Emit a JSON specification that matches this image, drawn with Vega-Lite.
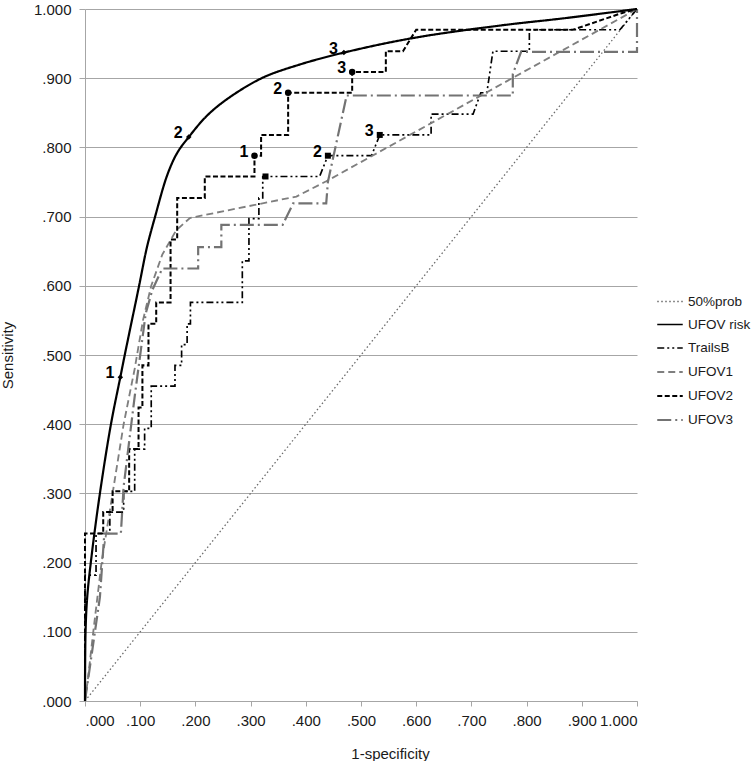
{
  "$schema": "https://vega.github.io/schema/vega-lite/v6.json",
  "width": 552,
  "height": 692,
  "padding": {"left": 0, "top": 2, "right": 0, "bottom": 0},
  "background": "white",
  "config": {
    "view": {"stroke": null},
    "font": "Liberation Sans",
    "axis": {
      "labelFont": "Liberation Sans",
      "titleFont": "Liberation Sans",
      "labelFontSize": 15, "titleFontSize": 15, "titleFontWeight": "normal",
      "labelColor": "#1a1a1a", "titleColor": "#1a1a1a",
      "domainColor": "#a6a6a6", "tickColor": "#a6a6a6", "gridColor": "#a6a6a6",
      "domainWidth": 1, "tickWidth": 1, "gridWidth": 1
    },
    "legend": {
      "labelFont": "Liberation Sans",
      "labelFontSize": 13.5, "labelColor": "#1a1a1a"
    }
  },
  "datasets": {
    "curves": [
      {"s": "50%prob", "i": 0, "x": 0, "y": 0},
      {"s": "50%prob", "i": 1, "x": 1, "y": 1},

      {"s": "UFOV risk", "i": 0, "x": 0.000, "y": 0.000},
      {"s": "UFOV risk", "i": 1, "x": 0.001, "y": 0.100},
      {"s": "UFOV risk", "i": 2, "x": 0.004, "y": 0.150},
      {"s": "UFOV risk", "i": 3, "x": 0.012, "y": 0.210},
      {"s": "UFOV risk", "i": 4, "x": 0.027, "y": 0.300},
      {"s": "UFOV risk", "i": 5, "x": 0.047, "y": 0.400},
      {"s": "UFOV risk", "i": 6, "x": 0.064, "y": 0.468},
      {"s": "UFOV risk", "i": 7, "x": 0.072, "y": 0.500},
      {"s": "UFOV risk", "i": 8, "x": 0.098, "y": 0.600},
      {"s": "UFOV risk", "i": 9, "x": 0.112, "y": 0.655},
      {"s": "UFOV risk", "i": 10, "x": 0.127, "y": 0.700},
      {"s": "UFOV risk", "i": 11, "x": 0.149, "y": 0.760},
      {"s": "UFOV risk", "i": 12, "x": 0.167, "y": 0.792},
      {"s": "UFOV risk", "i": 13, "x": 0.188, "y": 0.815},
      {"s": "UFOV risk", "i": 14, "x": 0.220, "y": 0.845},
      {"s": "UFOV risk", "i": 15, "x": 0.256, "y": 0.869},
      {"s": "UFOV risk", "i": 16, "x": 0.320, "y": 0.900},
      {"s": "UFOV risk", "i": 17, "x": 0.386, "y": 0.919},
      {"s": "UFOV risk", "i": 18, "x": 0.469, "y": 0.937},
      {"s": "UFOV risk", "i": 19, "x": 0.594, "y": 0.958},
      {"s": "UFOV risk", "i": 20, "x": 0.751, "y": 0.976},
      {"s": "UFOV risk", "i": 21, "x": 0.872, "y": 0.987},
      {"s": "UFOV risk", "i": 22, "x": 1.000, "y": 1.000},

      {"s": "TrailsB", "i": 0, "x": 0.000, "y": 0.000},
      {"s": "TrailsB", "i": 1, "x": 0.000, "y": 0.182},
      {"s": "TrailsB", "i": 2, "x": 0.020, "y": 0.182},
      {"s": "TrailsB", "i": 3, "x": 0.020, "y": 0.242},
      {"s": "TrailsB", "i": 4, "x": 0.045, "y": 0.242},
      {"s": "TrailsB", "i": 5, "x": 0.045, "y": 0.273},
      {"s": "TrailsB", "i": 6, "x": 0.070, "y": 0.273},
      {"s": "TrailsB", "i": 7, "x": 0.070, "y": 0.303},
      {"s": "TrailsB", "i": 8, "x": 0.090, "y": 0.303},
      {"s": "TrailsB", "i": 9, "x": 0.090, "y": 0.364},
      {"s": "TrailsB", "i": 10, "x": 0.108, "y": 0.364},
      {"s": "TrailsB", "i": 11, "x": 0.108, "y": 0.394},
      {"s": "TrailsB", "i": 12, "x": 0.120, "y": 0.394},
      {"s": "TrailsB", "i": 13, "x": 0.120, "y": 0.455},
      {"s": "TrailsB", "i": 14, "x": 0.163, "y": 0.455},
      {"s": "TrailsB", "i": 15, "x": 0.163, "y": 0.485},
      {"s": "TrailsB", "i": 16, "x": 0.175, "y": 0.485},
      {"s": "TrailsB", "i": 17, "x": 0.175, "y": 0.515},
      {"s": "TrailsB", "i": 18, "x": 0.185, "y": 0.515},
      {"s": "TrailsB", "i": 19, "x": 0.185, "y": 0.545},
      {"s": "TrailsB", "i": 20, "x": 0.191, "y": 0.545},
      {"s": "TrailsB", "i": 21, "x": 0.191, "y": 0.576},
      {"s": "TrailsB", "i": 22, "x": 0.285, "y": 0.576},
      {"s": "TrailsB", "i": 23, "x": 0.285, "y": 0.636},
      {"s": "TrailsB", "i": 24, "x": 0.297, "y": 0.636},
      {"s": "TrailsB", "i": 25, "x": 0.297, "y": 0.697},
      {"s": "TrailsB", "i": 26, "x": 0.315, "y": 0.697},
      {"s": "TrailsB", "i": 27, "x": 0.315, "y": 0.727},
      {"s": "TrailsB", "i": 28, "x": 0.322, "y": 0.727},
      {"s": "TrailsB", "i": 29, "x": 0.322, "y": 0.758},
      {"s": "TrailsB", "i": 30, "x": 0.425, "y": 0.758},
      {"s": "TrailsB", "i": 31, "x": 0.440, "y": 0.788},
      {"s": "TrailsB", "i": 32, "x": 0.519, "y": 0.788},
      {"s": "TrailsB", "i": 33, "x": 0.534, "y": 0.818},
      {"s": "TrailsB", "i": 34, "x": 0.627, "y": 0.818},
      {"s": "TrailsB", "i": 35, "x": 0.627, "y": 0.848},
      {"s": "TrailsB", "i": 36, "x": 0.703, "y": 0.848},
      {"s": "TrailsB", "i": 37, "x": 0.717, "y": 0.879},
      {"s": "TrailsB", "i": 38, "x": 0.728, "y": 0.879},
      {"s": "TrailsB", "i": 39, "x": 0.739, "y": 0.939},
      {"s": "TrailsB", "i": 40, "x": 0.805, "y": 0.939},
      {"s": "TrailsB", "i": 41, "x": 0.805, "y": 0.970},
      {"s": "TrailsB", "i": 42, "x": 0.969, "y": 0.970},
      {"s": "TrailsB", "i": 43, "x": 1.000, "y": 1.000},

      {"s": "UFOV1", "i": 0, "x": 0.000, "y": 0.000},
      {"s": "UFOV1", "i": 1, "x": 0.005, "y": 0.030},
      {"s": "UFOV1", "i": 2, "x": 0.015, "y": 0.100},
      {"s": "UFOV1", "i": 3, "x": 0.030, "y": 0.200},
      {"s": "UFOV1", "i": 4, "x": 0.050, "y": 0.300},
      {"s": "UFOV1", "i": 5, "x": 0.070, "y": 0.400},
      {"s": "UFOV1", "i": 6, "x": 0.090, "y": 0.480},
      {"s": "UFOV1", "i": 7, "x": 0.105, "y": 0.550},
      {"s": "UFOV1", "i": 8, "x": 0.120, "y": 0.600},
      {"s": "UFOV1", "i": 9, "x": 0.140, "y": 0.645},
      {"s": "UFOV1", "i": 10, "x": 0.165, "y": 0.680},
      {"s": "UFOV1", "i": 11, "x": 0.190, "y": 0.698},
      {"s": "UFOV1", "i": 12, "x": 0.383, "y": 0.729},
      {"s": "UFOV1", "i": 13, "x": 0.437, "y": 0.751},
      {"s": "UFOV1", "i": 14, "x": 1.000, "y": 1.000},

      {"s": "UFOV2", "i": 0, "x": 0.000, "y": 0.000},
      {"s": "UFOV2", "i": 1, "x": 0.000, "y": 0.242},
      {"s": "UFOV2", "i": 2, "x": 0.033, "y": 0.242},
      {"s": "UFOV2", "i": 3, "x": 0.033, "y": 0.273},
      {"s": "UFOV2", "i": 4, "x": 0.050, "y": 0.273},
      {"s": "UFOV2", "i": 5, "x": 0.050, "y": 0.303},
      {"s": "UFOV2", "i": 6, "x": 0.080, "y": 0.303},
      {"s": "UFOV2", "i": 7, "x": 0.080, "y": 0.364},
      {"s": "UFOV2", "i": 8, "x": 0.097, "y": 0.364},
      {"s": "UFOV2", "i": 9, "x": 0.097, "y": 0.424},
      {"s": "UFOV2", "i": 10, "x": 0.104, "y": 0.424},
      {"s": "UFOV2", "i": 11, "x": 0.104, "y": 0.485},
      {"s": "UFOV2", "i": 12, "x": 0.115, "y": 0.485},
      {"s": "UFOV2", "i": 13, "x": 0.115, "y": 0.545},
      {"s": "UFOV2", "i": 14, "x": 0.129, "y": 0.545},
      {"s": "UFOV2", "i": 15, "x": 0.129, "y": 0.576},
      {"s": "UFOV2", "i": 16, "x": 0.155, "y": 0.576},
      {"s": "UFOV2", "i": 17, "x": 0.155, "y": 0.667},
      {"s": "UFOV2", "i": 18, "x": 0.167, "y": 0.667},
      {"s": "UFOV2", "i": 19, "x": 0.167, "y": 0.727},
      {"s": "UFOV2", "i": 20, "x": 0.217, "y": 0.727},
      {"s": "UFOV2", "i": 21, "x": 0.217, "y": 0.758},
      {"s": "UFOV2", "i": 22, "x": 0.307, "y": 0.758},
      {"s": "UFOV2", "i": 23, "x": 0.307, "y": 0.788},
      {"s": "UFOV2", "i": 24, "x": 0.319, "y": 0.788},
      {"s": "UFOV2", "i": 25, "x": 0.319, "y": 0.818},
      {"s": "UFOV2", "i": 26, "x": 0.368, "y": 0.818},
      {"s": "UFOV2", "i": 27, "x": 0.368, "y": 0.879},
      {"s": "UFOV2", "i": 28, "x": 0.484, "y": 0.879},
      {"s": "UFOV2", "i": 29, "x": 0.484, "y": 0.909},
      {"s": "UFOV2", "i": 30, "x": 0.545, "y": 0.909},
      {"s": "UFOV2", "i": 31, "x": 0.545, "y": 0.939},
      {"s": "UFOV2", "i": 32, "x": 0.576, "y": 0.939},
      {"s": "UFOV2", "i": 33, "x": 0.600, "y": 0.970},
      {"s": "UFOV2", "i": 34, "x": 0.884, "y": 0.970},
      {"s": "UFOV2", "i": 35, "x": 0.972, "y": 0.994},
      {"s": "UFOV2", "i": 36, "x": 1.000, "y": 1.000},

      {"s": "UFOV3", "i": 0, "x": 0.000, "y": 0.000},
      {"s": "UFOV3", "i": 1, "x": 0.027, "y": 0.150},
      {"s": "UFOV3", "i": 2, "x": 0.035, "y": 0.242},
      {"s": "UFOV3", "i": 3, "x": 0.065, "y": 0.242},
      {"s": "UFOV3", "i": 4, "x": 0.070, "y": 0.310},
      {"s": "UFOV3", "i": 5, "x": 0.080, "y": 0.375},
      {"s": "UFOV3", "i": 6, "x": 0.090, "y": 0.440},
      {"s": "UFOV3", "i": 7, "x": 0.100, "y": 0.500},
      {"s": "UFOV3", "i": 8, "x": 0.110, "y": 0.560},
      {"s": "UFOV3", "i": 9, "x": 0.122, "y": 0.594},
      {"s": "UFOV3", "i": 10, "x": 0.140, "y": 0.625},
      {"s": "UFOV3", "i": 11, "x": 0.205, "y": 0.625},
      {"s": "UFOV3", "i": 12, "x": 0.205, "y": 0.656},
      {"s": "UFOV3", "i": 13, "x": 0.247, "y": 0.656},
      {"s": "UFOV3", "i": 14, "x": 0.247, "y": 0.688},
      {"s": "UFOV3", "i": 15, "x": 0.358, "y": 0.688},
      {"s": "UFOV3", "i": 16, "x": 0.377, "y": 0.719},
      {"s": "UFOV3", "i": 17, "x": 0.437, "y": 0.719},
      {"s": "UFOV3", "i": 18, "x": 0.440, "y": 0.750},
      {"s": "UFOV3", "i": 19, "x": 0.474, "y": 0.875},
      {"s": "UFOV3", "i": 20, "x": 0.775, "y": 0.875},
      {"s": "UFOV3", "i": 21, "x": 0.775, "y": 0.906},
      {"s": "UFOV3", "i": 22, "x": 0.790, "y": 0.938},
      {"s": "UFOV3", "i": 23, "x": 1.000, "y": 0.938},
      {"s": "UFOV3", "i": 24, "x": 1.000, "y": 1.000}
    ],
    "points": [
      {"s": "UFOV risk", "lab": "1", "x": 0.064, "y": 0.468},
      {"s": "UFOV risk", "lab": "2", "x": 0.188, "y": 0.815},
      {"s": "UFOV risk", "lab": "3", "x": 0.469, "y": 0.937},
      {"s": "UFOV2", "lab": "1", "x": 0.307, "y": 0.788},
      {"s": "UFOV2", "lab": "2", "x": 0.368, "y": 0.879},
      {"s": "UFOV2", "lab": "3", "x": 0.484, "y": 0.909},
      {"s": "TrailsB", "lab": "", "x": 0.327, "y": 0.758},
      {"s": "TrailsB", "lab": "2", "x": 0.440, "y": 0.788},
      {"s": "TrailsB", "lab": "3", "x": 0.534, "y": 0.818}
    ]
  },
  "encoding": {
    "x": {
      "field": "x", "type": "quantitative",
      "scale": {"domain": [0, 1], "nice": false},
      "axis": {
        "title": "1-specificity",
        "values": [0, 0.1, 0.2, 0.3, 0.4, 0.5, 0.6, 0.7, 0.8, 0.9, 1],
        "labelExpr": "datum.value < 1 ? substring(format(datum.value, '.3f'), 1) : format(datum.value, '.3f')",
        "grid": false, "tickSize": 5, "labelPadding": 7, "titlePadding": 18,
        "titleX": 305
      }
    },
    "y": {
      "field": "y", "type": "quantitative",
      "scale": {"domain": [0, 1], "nice": false},
      "axis": {
        "title": "Sensitivity",
        "values": [0, 0.1, 0.2, 0.3, 0.4, 0.5, 0.6, 0.7, 0.8, 0.9, 1],
        "labelExpr": "datum.value < 1 ? substring(format(datum.value, '.3f'), 1) : format(datum.value, '.3f')",
        "grid": true, "tickSize": 6, "labelPadding": 8, "titlePadding": 18
      }
    }
  },
  "layer": [
    {
      "data": {"name": "curves"},
      "transform": [{"filter": "datum.s != 'UFOV risk'"}],
      "mark": {"type": "line", "strokeCap": "butt", "strokeJoin": "miter"},
      "encoding": {
        "order": {"field": "i", "type": "quantitative"},
        "color": {
          "field": "s", "type": "nominal",
          "scale": {
            "domain": ["50%prob", "UFOV risk", "TrailsB", "UFOV1", "UFOV2", "UFOV3"],
            "range": ["#6b6b6b", "#000000", "#000000", "#7f7f7f", "#000000", "#737373"]
          },
          "legend": {
            "title": null, "orient": "none", "legendX": 571, "legendY": 279,
            "symbolType": "stroke", "symbolSize": 650, "symbolStrokeWidth": 2,
            "rowPadding": 3, "labelOffset": 4, "padding": 0
          }
        },
        "strokeDash": {
          "field": "s", "type": "nominal",
          "scale": {
            "domain": ["50%prob", "UFOV risk", "TrailsB", "UFOV1", "UFOV2", "UFOV3"],
            "range": [[1.5, 2.5], [1, 0], [7, 3, 2, 3, 2, 3], [7, 4], [5, 2.5], [14, 4, 2, 4]]
          },
          "legend": {
            "title": null, "orient": "none", "legendX": 571, "legendY": 279,
            "symbolType": "stroke", "symbolSize": 650, "symbolStrokeWidth": 2,
            "rowPadding": 3, "labelOffset": 4, "padding": 0
          }
        },
        "strokeWidth": {
          "field": "s", "type": "nominal",
          "scale": {
            "domain": ["50%prob", "UFOV risk", "TrailsB", "UFOV1", "UFOV2", "UFOV3"],
            "range": [1.3, 2.2, 2, 2, 2, 2]
          },
          "legend": null
        }
      }
    },
    {
      "data": {"name": "curves"},
      "transform": [{"filter": "datum.s == 'UFOV risk'"}],
      "mark": {"type": "line", "interpolate": "catmull-rom", "strokeWidth": 2.2},
      "encoding": {
        "order": {"field": "i", "type": "quantitative"},
        "color": {"field": "s", "type": "nominal"},
        "strokeDash": {"field": "s", "type": "nominal"}
      }
    },
    {
      "data": {"name": "points"},
      "mark": {"type": "point", "filled": true, "opacity": 1, "color": "#000000"},
      "encoding": {
        "shape": {
          "field": "s", "type": "nominal",
          "scale": {"domain": ["UFOV risk", "TrailsB", "UFOV2"], "range": ["diamond", "square", "circle"]},
          "legend": null
        },
        "size": {
          "field": "s", "type": "nominal",
          "scale": {"domain": ["UFOV risk", "TrailsB", "UFOV2"], "range": [30, 42, 34]},
          "legend": null
        }
      }
    },
    {
      "data": {"name": "points"},
      "mark": {"type": "text", "align": "right", "baseline": "middle", "dx": -6, "dy": -4, "fontSize": 16, "fontWeight": "bold", "color": "#000000", "font": "Liberation Sans"},
      "encoding": {
        "text": {"field": "lab", "type": "nominal"}
      }
    }
  ]
}
